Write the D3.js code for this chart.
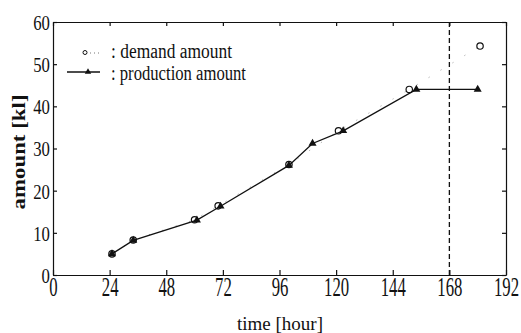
<!DOCTYPE html>
<html><head><meta charset="utf-8">
<script src="https://cdn.jsdelivr.net/npm/d3@7/dist/d3.min.js"></script>
<style>body{margin:0;background:#fff}svg{display:block}</style>
</head><body>
<svg id="c" width="521" height="333"></svg>
<script>
const demandTime = [25, 34, 60, 70, 100, 121, 151, 181];
const demandAmount = [5, 8.3, 13.1, 16.4, 26.2, 34.2, 44, 54.3];
const prodTime = [25, 34, 61, 71, 100, 110, 123, 154, 180];
const prodAmount = [5, 8.2, 13, 16.3, 26, 31.2, 34.2, 44, 44];
const xTicks = [0, 24, 48, 72, 96, 120, 144, 168, 192];
const yTicks = [0, 10, 20, 30, 40, 50, 60];
const horizon = 168;

const svg = d3.select("#c");
const m = {l: 53, r: 506, t: 22, b: 275};
const x = d3.scaleLinear().domain([0, 192]).range([m.l, m.r]);
const y = d3.scaleLinear().domain([0, 60]).range([m.b, m.t]);
const font = "'Liberation Serif','Times New Roman',serif";

// axes
const gx = svg.append("g").attr("transform", `translate(0,${m.b})`)
  .call(d3.axisBottom(x).tickValues(xTicks).tickSizeInner(-5).tickSizeOuter(0).tickFormat(d3.format("d")));
const gxt = svg.append("g").attr("transform", `translate(0,${m.t})`)
  .call(d3.axisTop(x).tickValues(xTicks).tickSizeInner(-4).tickSizeOuter(0).tickFormat(""));
const gy = svg.append("g").attr("transform", `translate(${m.l},0)`)
  .call(d3.axisLeft(y).tickValues(yTicks).tickSizeInner(-4).tickSizeOuter(0));
const gyr = svg.append("g").attr("transform", `translate(${m.r},0)`)
  .call(d3.axisRight(y).tickValues(yTicks).tickSizeInner(-4).tickSizeOuter(0).tickFormat(""));
[gx, gxt, gy, gyr].forEach(g => {
  g.attr("font-family", null).attr("font-size", null);
  g.selectAll("path,line").attr("stroke", "#111").attr("stroke-width", 1.2);
});
gx.selectAll(".tick text")
  .style("font-family", font).style("font-size", "27px").attr("fill", "#111")
  .attr("y", 21).attr("dy", 0).attr("transform", "scale(0.62,1)");
gy.selectAll(".tick text")
  .style("font-family", font).style("font-size", "22px").attr("fill", "#111")
  .attr("x", -4).attr("dy", "0.34em").attr("transform", "scale(0.76,1)");

// horizon dashed line
svg.append("line").attr("x1", x(horizon)).attr("x2", x(horizon))
  .attr("y1", m.t).attr("y2", m.b).attr("stroke", "#111").attr("stroke-width", 1.3)
  .attr("stroke-dasharray", "5,3");

// demand dotted line
const dem = demandTime.map((t, i) => [t, demandAmount[i]]);
const prod = prodTime.map((t, i) => [t, prodAmount[i]]);
const line = d3.line().x(d => x(d[0])).y(d => y(d[1]));
svg.append("path").attr("d", line(dem)).attr("fill", "none").attr("stroke", "#999")
  .attr("stroke-width", 1).attr("stroke-dasharray", "1,13");

// production line
svg.append("path").attr("d", line(prod)).attr("fill", "none").attr("stroke", "#111").attr("stroke-width", 1.3);
const tri = d3.symbol().type(d3.symbolTriangle).size(28);
svg.selectAll(".tri").data(prod).join("path").attr("d", tri)
  .attr("transform", d => `translate(${x(d[0])},${y(d[1])})`).attr("fill", "#111");
svg.selectAll(".circ").data(dem).join("circle")
  .attr("cx", d => x(d[0])).attr("cy", d => y(d[1])).attr("r", 3.2)
  .attr("fill", "none").attr("stroke", "#111").attr("stroke-width", 1.2);

// legend
svg.append("circle").attr("cx", 85).attr("cy", 52.5).attr("r", 2).attr("fill", "none").attr("stroke", "#111").attr("stroke-width", 1);
svg.append("line").attr("x1", 90).attr("x2", 100).attr("y1", 53).attr("y2", 53)
  .attr("stroke", "#777").attr("stroke-width", 1).attr("stroke-dasharray", "1,3");
svg.append("line").attr("x1", 67).attr("x2", 100).attr("y1", 72).attr("y2", 72)
  .attr("stroke", "#111").attr("stroke-width", 1.4);
svg.append("path").attr("d", d3.symbol().type(d3.symbolTriangle).size(18)).attr("transform", "translate(88,72)").attr("fill", "#111");
svg.append("text").attr("x", 111).attr("y", 58).text(": demand amount")
  .style("font-family", font).style("font-size", "20px").attr("fill", "#111")
  .attr("textLength", 121).attr("lengthAdjust", "spacingAndGlyphs");
svg.append("text").attr("x", 111).attr("y", 80).text(": production amount")
  .style("font-family", font).style("font-size", "20px").attr("fill", "#111")
  .attr("textLength", 135).attr("lengthAdjust", "spacingAndGlyphs");

// axis titles
svg.append("text").attr("x", 280).attr("y", 330).attr("text-anchor", "middle").text("time [hour]")
  .style("font-family", font).style("font-size", "19px").attr("fill", "#111");
svg.append("text").attr("transform", "translate(25,152) rotate(-90)").attr("text-anchor", "middle")
  .text("amount [kl]").style("font-family", font).style("font-size", "18px").style("font-weight", "bold")
  .attr("fill", "#111").attr("textLength", 115).attr("lengthAdjust", "spacingAndGlyphs");
</script>
</body></html>
